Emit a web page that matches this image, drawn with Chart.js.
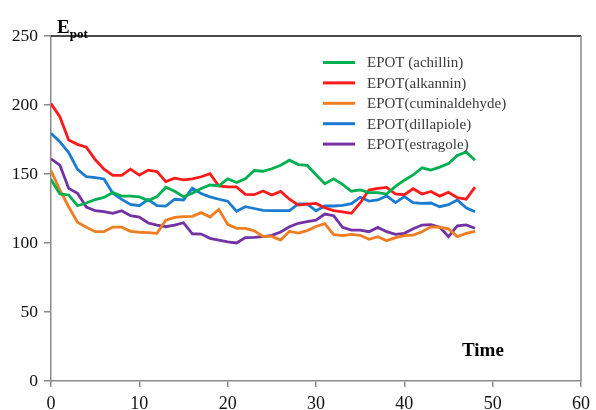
<!DOCTYPE html>
<html>
<head>
<meta charset="utf-8">
<script src="https://cdn.jsdelivr.net/npm/chart.js@4"></script>
<style>
  html, body { margin: 0; padding: 0; background: #fff; }
  canvas { display: block; }
</style>
</head>
<body>
<canvas id="c" width="596" height="410"></canvas>
<script>
// Time steps
const time = [0,1,2,3,4,5,6,7,8,9,10,11,12,13,14,15,16,17,18,19,20,21,22,23,24,
              25,26,27,28,29,30,31,32,33,34,35,36,37,38,39,40,41,42,43,44,45,46,47,48];

// Potential energy per compound
const achillin = [146,135.5,134.8,127,129,131.5,133,136.5,134,134,133.5,130.7,133.6,140.4,137.5,133.5,136,139.5,142,141.5,
                  146.5,143.8,146.5,152.5,152,153.8,156.3,160,156.8,156.2,149.5,143,146.5,142.5,137.5,138.5,136.5,136.5,135.5,141,
                  145.5,149.3,154.5,152.8,155,157.5,163.5,166,160];
const alkannin = [201,191.5,174.6,171.5,169.5,160.5,153.5,149,149,153.5,149.2,152.8,151.8,144.5,147,145.7,146.5,148,150.3,141.3,
                  140.6,140.6,135.3,135,137.7,134.8,137.4,131.7,127.5,128.1,128.7,125.5,123.5,122.5,121.5,129,138.4,139.6,140.3,135.5,
                  135,139.3,135.5,137.3,134,136.8,132.8,131.7,140.5];
const cuminaldehyde = [152.4,138.4,126.3,115,111.4,108.2,108.2,111.5,111.5,108.5,107.8,107.5,107,116.5,118.5,119.1,119.3,122,118.8,124.4,
                  113.5,110.6,110.6,108.8,104.8,104.8,102.1,108.5,107.2,109,112,114,106,105.3,106.3,105.6,102.7,104.6,101.7,103.9,
                  105.4,105.7,108.2,111.7,111.4,110.2,104.6,107,108.5];
const dillapiole = [179.5,173.4,165.5,153.4,148,147.3,146.4,136,131.6,128,127,131.5,127,126.7,131.7,131.2,139.7,135.8,133.4,131.7,
                  130.3,123,126.3,125,123.6,123.4,123.4,123.4,128.3,128.3,123.3,126.8,126.8,127.2,128.5,133.1,130.4,131.2,134.1,129.3,
                  133.6,129.3,128.7,129,126.3,127.8,131.2,125.5,122.7];
const estragole = [161,156.5,139.6,136,126,123.4,122.7,121.5,123.4,119.8,118.8,114.5,113,111.8,113,114.7,106.7,106.5,103.4,102,
                  100.8,100,103.9,104.1,104.6,105.5,108,111.8,114.3,115.5,116.5,121,119.8,111.3,109.4,109.4,108.2,111.3,108.2,106.3,
                  107,110.3,113,113.3,111.5,104.6,112.4,113.1,110.7];

const seriesLabels = ['EPOT (achillin)', 'EPOT(alkannin)', 'EPOT(cuminaldehyde)', 'EPOT(dillapiole)', 'EPOT(estragole)'];
const seriesValues = [achillin, alkannin, cuminaldehyde, dillapiole, estragole];
const seriesColors = ['#00b050', '#ff1a1a', '#ef7d22', '#1b7bd0', '#7232a3'];

const yTicks = [0, 50, 100, 150, 200, 250];
const xTicks = [0, 10, 20, 30, 40, 50, 60];

const serif = '"Liberation Serif", "Times New Roman", serif';
const axisColor = '#8a8a8a';

const datasets = seriesValues.map((vals, i) => ({
  label: seriesLabels[i],
  data: vals.map((v, k) => ({ x: time[k], y: v })),
  borderColor: seriesColors[i],
  backgroundColor: seriesColors[i],
  borderWidth: 2.8,
  pointRadius: 0,
  tension: 0,
  fill: false
}));

// Frame lines, axis titles and in-plot legend
const decorations = {
  id: 'decorations',
  afterDraw(chart) {
    const { ctx, chartArea: a } = chart;
    ctx.save();
    // top frame line
    ctx.strokeStyle = '#111';
    ctx.lineWidth = 1.5;
    ctx.beginPath();
    ctx.moveTo(a.left, a.top);
    ctx.lineTo(a.right, a.top);
    ctx.stroke();
    // right frame line
    ctx.strokeStyle = axisColor;
    ctx.lineWidth = 1.5;
    ctx.beginPath();
    ctx.moveTo(a.right, a.top);
    ctx.lineTo(a.right, a.bottom);
    ctx.stroke();

    // y title: E with subscript "pot"
    ctx.fillStyle = '#000';
    ctx.textBaseline = 'alphabetic';
    ctx.textAlign = 'left';
    ctx.font = 'bold 19px ' + serif;
    ctx.fillText('E', a.left + 6, a.top - 3);
    const eW = ctx.measureText('E').width;
    ctx.font = 'bold 13px ' + serif;
    ctx.fillText('pot', a.left + 6 + eW, a.top + 2);

    // x title
    ctx.font = 'bold 19px ' + serif;
    ctx.textBaseline = 'middle';
    ctx.fillText('Time', a.left + 411, a.top + 315);

    // legend
    ctx.font = '15px ' + serif;
    chart.data.datasets.forEach((ds, i) => {
      const y = a.top + 26.5 + i * 20.4;
      ctx.strokeStyle = ds.borderColor;
      ctx.lineWidth = 3;
      ctx.beginPath();
      ctx.moveTo(a.left + 272, y);
      ctx.lineTo(a.left + 304, y);
      ctx.stroke();
      ctx.fillStyle = '#3a3a3a';
      ctx.textBaseline = 'middle';
      ctx.fillText(ds.label, a.left + 316, y + 1);
    });
    ctx.restore();
  }
};

new Chart(document.getElementById('c'), {
  type: 'line',
  data: { datasets },
  options: {
    responsive: false,
    animation: false,
    layout: { padding: { top: 36, right: 14, left: 0, bottom: 0 } },
    plugins: { legend: { display: false }, tooltip: { enabled: false } },
    scales: {
      x: {
        type: 'linear',
        min: xTicks[0],
        max: xTicks[xTicks.length - 1],
        afterBuildTicks(scale) { scale.ticks = xTicks.map(v => ({ value: v })); },
        afterFit(scale) { scale.height = 29; },
        grid: { drawOnChartArea: false, drawTicks: true, tickLength: 6, color: axisColor, lineWidth: 1.5 },
        border: { display: true, color: axisColor, width: 1.5 },
        ticks: { color: '#111', padding: 6, font: { family: serif, size: 18 }, maxRotation: 0 }
      },
      y: {
        min: yTicks[0],
        max: yTicks[yTicks.length - 1],
        afterBuildTicks(scale) { scale.ticks = yTicks.map(v => ({ value: v })); },
        afterFit(scale) { scale.width = 51; },
        grid: { drawOnChartArea: false, drawTicks: true, tickLength: 7, color: axisColor, lineWidth: 1.5 },
        border: { display: true, color: axisColor, width: 1.5 },
        ticks: { color: '#111', padding: 6, font: { family: serif, size: 17.5 } }
      }
    }
  },
  plugins: [decorations]
});
</script>
</body>
</html>
